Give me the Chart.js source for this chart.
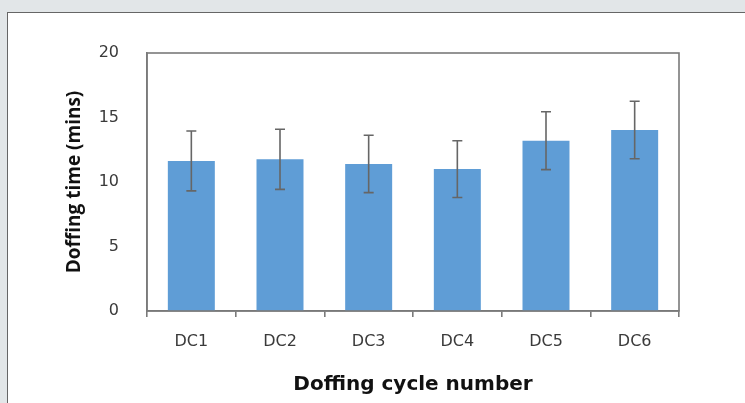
<!DOCTYPE html>
<html>
<head>
<meta charset="utf-8">
<script src="https://cdn.jsdelivr.net/npm/chart.js@4"></script>
<style>
  html, body { margin: 0; padding: 0; background: #e2e6e8; }
  #panel { position: absolute; left: 7px; top: 12px; width: 800px; height: 500px; background: #fff;
           border-top: 1px solid #666; border-left: 1px solid #666; }
  #wrap { position: absolute; left: 0; top: 0; width: 745px; height: 403px; }
</style>
</head>
<body>
<div id="panel"></div>
<div id="wrap"><canvas id="c"></canvas></div>
<script>
const categories = ['DC1', 'DC2', 'DC3', 'DC4', 'DC5', 'DC6'];
const meanTimes = [11.63, 11.76, 11.40, 11.00, 13.20, 14.03];
const errors = [2.32, 2.33, 2.22, 2.2, 2.24, 2.23];
const yTicks = [0, 5, 10, 15, 20];

const errorBarPlugin = {
  id: 'errorBars',
  afterDatasetsDraw(chart) {
    const ctx = chart.ctx;
    const meta = chart.getDatasetMeta(0);
    const y = chart.scales.y;
    ctx.save();
    ctx.strokeStyle = '#666666';
    ctx.lineWidth = 1.6;
    meta.data.forEach((bar, i) => {
      const x = bar.x;
      const top = y.getPixelForValue(meanTimes[i] + errors[i]);
      const bot = y.getPixelForValue(meanTimes[i] - errors[i]);
      ctx.beginPath();
      ctx.moveTo(x, top); ctx.lineTo(x, bot);
      ctx.moveTo(x - 5, top); ctx.lineTo(x + 5, top);
      ctx.moveTo(x - 5, bot); ctx.lineTo(x + 5, bot);
      ctx.stroke();
    });
    ctx.restore();
  }
};

const frameBoxPlugin = {
  id: 'frameBox',
  afterDraw(chart) {
    const a = chart.chartArea;
    const ctx = chart.ctx;
    ctx.save();
    ctx.strokeStyle = '#7a7a7a';
    ctx.lineWidth = 1.6;
    ctx.strokeRect(a.left, a.top, a.right - a.left, a.bottom - a.top);
    ctx.restore();
  }
};

new Chart(document.getElementById('c'), {
  type: 'bar',
  data: {
    labels: categories,
    datasets: [{
      data: meanTimes,
      backgroundColor: '#5f9dd6',
      borderWidth: 0,
      barPercentage: 0.53,
      categoryPercentage: 1.0
    }]
  },
  options: {
    responsive: true,
    maintainAspectRatio: false,
    animation: false,
    layout: { padding: { top: 53, right: 66, left: 0, bottom: 0 } },
    plugins: { legend: { display: false }, tooltip: { enabled: false } },
    scales: {
      x: {
        afterFit(s) { s.height = 92; },
        grid: { display: true, drawOnChartArea: false, drawTicks: true, tickLength: 6, color: '#7a7a7a', lineWidth: 1.6, offset: true },
        border: { display: true, color: '#7a7a7a', width: 1.6 },
        ticks: { color: '#3a3a3a', padding: 15, font: { family: 'DejaVu Sans', size: 16 } },
        title: { display: true, text: 'Doffing cycle number', color: '#111', padding: { top: 0, bottom: 6 },
                 font: { family: 'DejaVu Sans', size: 20, weight: 'bold' } }
      },
      y: {
        min: 0, max: 20,
        afterFit(s) { s.width = 147; },
        afterBuildTicks(s) { s.ticks = yTicks.map(v => ({ value: v })); },
        grid: { display: false },
        border: { display: true, color: '#7a7a7a', width: 1.6 },
        ticks: { color: '#3a3a3a', padding: 20, font: { family: 'DejaVu Sans', size: 16 } },
        title: { display: true, text: 'Doffing time (mins)', color: '#111', padding: { top: 63, bottom: 0 },
                 font: { family: 'Open Sans', size: 19, weight: 'bold' } }
      }
    }
  },
  plugins: [errorBarPlugin, frameBoxPlugin]
});
</script>
</body>
</html>
